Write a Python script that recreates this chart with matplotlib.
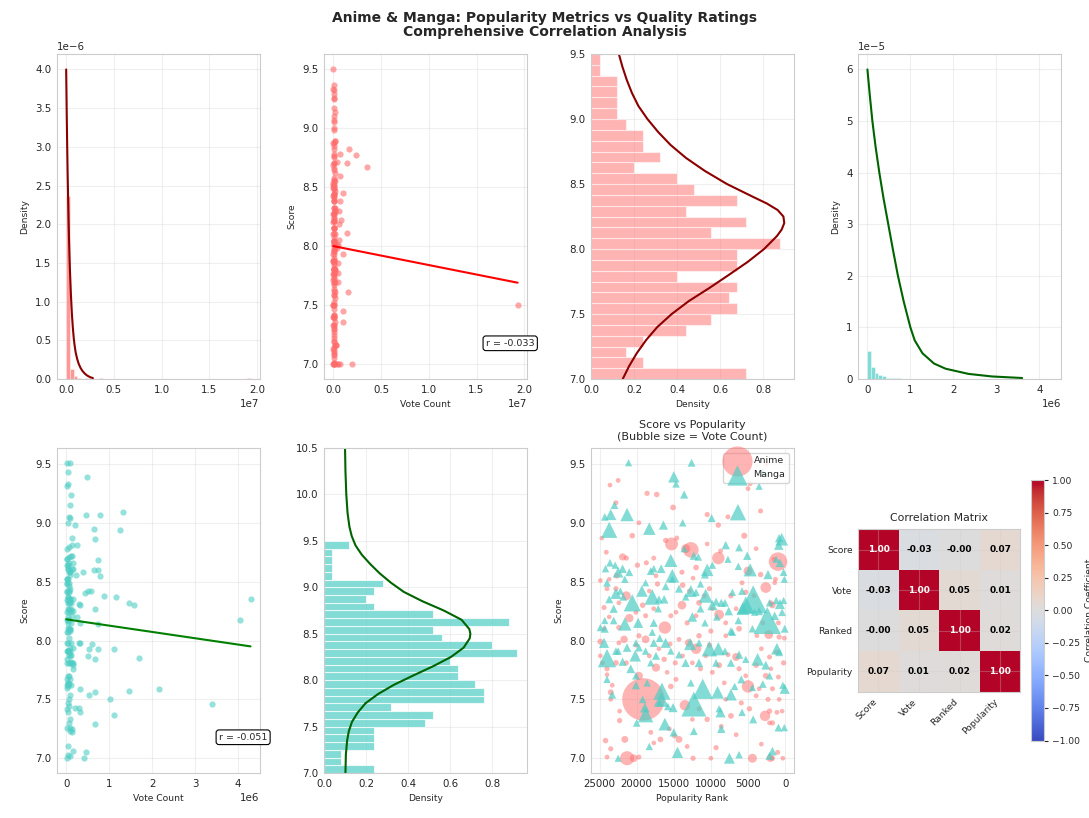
import matplotlib
matplotlib.use('Agg')
import matplotlib.pyplot as plt
import numpy as np
import seaborn as sns

sns.set_style('whitegrid')
plt.rcParams['font.family'] = ['DejaVu Sans']
plt.rcParams['xtick.labelsize'] = 7.4
plt.rcParams['ytick.labelsize'] = 7.4
plt.rcParams['axes.labelsize'] = 6.6
plt.rcParams['xtick.major.size'] = 0
plt.rcParams['ytick.major.size'] = 0
plt.rcParams['xtick.major.pad'] = 4
plt.rcParams['ytick.major.pad'] = 4

ANIME = '#FF6B6B'
MANGA = '#4ECDC4'

# ---------------- data ----------------
# anime: popularity rank, score, vote count
anime_pop = [
    22500, 23600, 22800, 18600, 17300, 15100, 19700, 10500, 9000, 5000,
    4700, 3300, 7700, 20600, 24700, 15300, 14600, 12700, 9000, 950,
    21900, 21400, 24100, 19900, 18700, 17700, 16100, 13400, 12000, 10500,
    8700, 5500, 3900, 5000, 3300, 1500, 1300, 22700, 23700, 13900,
    17400, 24900, 24000, 22800, 21400, 22400, 24400, 23700, 22400, 24400,
    24900, 21700, 21000, 20100, 19200, 18800, 18300, 17200, 17700, 16200,
    15400, 14700, 13900, 13800, 12900, 12400, 13200, 12000, 11600, 10900,
    10200, 9800, 8900, 8000, 7300, 6600, 5800, 5300, 4200, 2600,
    1900, 1700, 2200, 3000, 1400, 800, 100, 900, 3800, 6200,
    8000, 10000, 11600, 14300, 19700, 24900, 24600, 24000, 24000, 22800,
    22400, 23300, 23500, 23500, 21400, 20100, 18800, 18300, 19700, 17400,
    17000, 16300, 15500, 14800, 15900, 14700, 15400, 13800, 13000, 12000,
    12500, 11400, 10700, 10200, 9800, 8900, 8200, 7700, 6600, 6200,
    5000, 5300, 3900, 3200, 2100, 1900, 1200, 200, 900, 2600,
    3500, 1700, 19100, 13500, 2700, 4400, 21300, 20400, 19700, 24200,
    24000, 23500, 22300, 22300, 21600, 18100, 17700, 16800, 15600, 14900,
    14300, 13200, 12400, 12500, 11600, 10500, 10000, 8600, 9300, 8000,
    7300, 6600, 5900, 3200, 2100, 1100, 400, 1700, 2100, 1000,
    300, 1700, 2000, 3900, 2300, 800, 4800, 2500]
anime_score = [
    9.36, 9.32, 9.17, 9.25, 9.24, 9.13, 9.00, 9.07, 8.98, 9.29,
    9.33, 9.10, 9.05, 8.89, 8.87, 8.82, 8.87, 8.77, 8.70, 8.67,
    8.71, 8.70, 8.75, 8.64, 8.66, 8.70, 8.85, 8.78, 8.62, 8.82,
    8.76, 8.89, 8.78, 8.59, 8.56, 8.69, 8.52, 8.55, 8.52, 8.58,
    8.55, 8.51, 8.44, 8.44, 8.38, 8.32, 8.28, 8.20, 8.11, 8.10,
    7.99, 8.01, 8.19, 8.24, 8.30, 8.21, 8.42, 8.48, 8.27, 8.11,
    8.21, 8.24, 8.30, 8.47, 8.42, 8.53, 8.15, 8.21, 8.32, 8.38,
    8.44, 8.27, 8.22, 8.15, 8.38, 8.27, 8.49, 8.41, 8.38, 8.45,
    8.32, 8.30, 8.05, 8.15, 8.49, 8.03, 8.02, 8.15, 8.04, 8.10,
    8.04, 8.08, 8.04, 8.01, 8.04, 7.87, 7.81, 7.76, 7.71, 7.81,
    7.98, 7.62, 7.56, 7.50, 7.81, 7.96, 8.01, 7.87, 7.70, 7.77,
    7.93, 7.84, 7.97, 7.81, 7.73, 7.67, 7.61, 7.87, 7.98, 7.93,
    7.81, 7.76, 7.87, 7.96, 7.73, 7.79, 7.64, 7.88, 7.86, 7.76,
    7.61, 7.70, 7.79, 7.93, 7.86, 7.76, 7.90, 7.81, 7.69, 7.70,
    7.59, 7.59, 7.50, 7.45, 7.36, 7.00, 7.00, 7.00, 7.01, 7.15,
    7.01, 7.08, 7.40, 7.32, 7.16, 7.22, 7.13, 7.16, 7.25, 7.19,
    7.16, 7.10, 7.00, 7.33, 7.42, 7.33, 7.00, 7.27, 7.09, 7.50,
    7.36, 7.20, 7.47, 7.12, 7.40, 7.39, 7.40, 7.30, 7.30, 7.05,
    7.00, 7.00, 7.00, 7.53, 7.50, 7.50, 7.42, 9.50]
anime_votes = [
    45000, 30000, 60000, 90000, 120000, 150000, 40000, 80000, 110000, 35000,
    25000, 70000, 55000, 130000, 20000, 1600000, 60000, 2410000, 1470000, 3530000,
    350000, 80000, 50000, 100000, 70000, 45000, 90000, 660000, 140000, 30000,
    60000, 200000, 40000, 660000, 120000, 25000, 50000, 150000, 20000, 80000,
    35000, 30000, 60000, 90000, 660000, 40000, 70000, 25000, 110000, 15000,
    180000, 400000, 560000, 50000, 130000, 75000, 20000, 95000, 45000, 1470000,
    65000, 30000, 600000, 140000, 55000, 25000, 85000, 40000, 160000, 35000,
    70000, 20000, 840000, 50000, 115000, 30000, 60000, 90000, 40000, 1050000,
    75000, 230000, 630000, 55000, 20000, 100000, 45000, 65000, 28000, 150000,
    35000, 80000, 120000, 45000, 90000, 30000, 60000, 90000, 25000, 140000,
    50000, 40000, 170000, 20000, 75000, 35000, 450000, 55000, 500000, 520000,
    25000, 110000, 45000, 80000, 30000, 60000, 130000, 20000, 420000, 980000,
    40000, 70000, 25000, 95000, 50000, 180000, 35000, 60000, 490000, 85000,
    1500000, 40000, 120000, 30000, 65000, 20000, 45000, 90000, 55000, 160000,
    30000, 70000, 19300000, 980000, 980000, 660000, 1960000, 450000, 60000, 120000,
    40000, 80000, 30000, 100000, 310000, 50000, 25000, 140000, 35000, 70000,
    300000, 45000, 90000, 20000, 60000, 110000, 30000, 55000, 85000, 25000,
    150000, 40000, 75000, 30000, 120000, 50000, 20000, 90000, 35000, 60000,
    25000, 80000, 400000, 45000, 70000, 30000, 100000, 10000]

# manga: popularity rank, score, vote count
manga_pop = [
    21100, 12600, 15000, 14700, 13600, 23000, 24300, 23500, 21300, 23700,
    18300, 16400, 13800, 9900, 6350, 800, 850, 450, 3000, 3500,
    23600, 22900, 21900, 22500, 21000, 21600, 18100, 17700, 16700, 15400,
    15200, 13600, 12300, 11700, 10500, 9800, 10800, 7700, 6200, 5100,
    4700, 6300, 2300, 1200, 700, 200, 100, 24200, 8000, 24000,
    22800, 22200, 23700, 21800, 20600, 23100, 24300, 23100, 21600, 19800,
    24900, 24300, 18800, 19300, 17900, 17000, 16300, 17100, 17700, 17900,
    16100, 15200, 14300, 13400, 12700, 12000, 11400, 10700, 11400, 12500,
    10800, 9800, 9300, 8600, 8100, 9200, 7600, 7100, 5800, 5300,
    4300, 5700, 6300, 4100, 3500, 2400, 2100, 700, 400, 200,
    50, 1400, 1200, 4400, 7300, 16900, 24400, 24000, 22800, 21900,
    24000, 23300, 22500, 21300, 20100, 19700, 18800, 17700, 20200, 20800,
    20100, 18100, 17400, 16100, 15400, 14300, 13400, 12800, 11600, 10200,
    9300, 9000, 8100, 7300, 7100, 6200, 5300, 3700, 2600, 2100,
    1100, 800, 300, 50, 3000, 5900, 6800, 11600, 16600, 16700,
    11100, 12700, 9100, 7300, 4400, 20100, 18600, 19200, 18900, 18800,
    20000, 16200, 15000, 18300, 14500, 12300, 15100, 12300, 8900, 8700,
    5800, 4300, 900, 100, 1700, 2100, 6200, 7500, 22500, 8600,
    15800, 16900]
manga_score = [
    9.51, 9.51, 9.39, 9.33, 9.24, 9.15, 9.05, 9.07, 9.07, 8.94,
    8.95, 8.98, 9.00, 9.04, 9.09, 8.87, 8.81, 8.86, 9.43, 9.31,
    8.66, 8.64, 8.61, 8.58, 8.58, 8.52, 8.59, 8.61, 8.61, 8.68,
    8.55, 8.78, 8.72, 8.71, 8.60, 8.64, 8.56, 8.69, 8.79, 8.72,
    8.60, 8.63, 8.56, 8.69, 8.66, 8.58, 8.52, 8.61, 8.81, 8.49,
    8.40, 8.42, 8.35, 8.37, 8.32, 8.27, 8.17, 8.17, 8.14, 8.15,
    8.11, 8.10, 8.49, 8.42, 8.37, 8.35, 8.35, 8.27, 8.15, 8.07,
    8.46, 8.52, 8.44, 8.37, 8.42, 8.41, 8.48, 8.38, 8.27, 8.20,
    8.15, 8.30, 8.33, 8.32, 8.32, 8.20, 8.25, 8.41, 8.42, 8.30,
    8.35, 8.27, 8.17, 8.24, 8.25, 8.17, 8.32, 8.31, 8.24, 8.34,
    8.10, 8.21, 8.34, 8.10, 8.08, 8.02, 7.98, 7.85, 7.91, 7.82,
    7.67, 7.54, 7.91, 7.94, 7.98, 7.94, 7.91, 7.98, 7.87, 7.76,
    7.70, 7.81, 7.87, 7.98, 7.91, 7.88, 7.81, 7.97, 7.98, 7.93,
    7.81, 7.93, 7.91, 7.81, 8.07, 7.88, 7.84, 7.84, 7.79, 7.70,
    7.93, 7.90, 7.62, 7.59, 7.63, 7.67, 7.61, 7.81, 7.57, 7.50,
    7.59, 7.64, 7.56, 7.54, 7.60, 7.62, 7.64, 7.50, 7.43, 7.37,
    7.30, 7.29, 7.22, 7.10, 7.05, 7.23, 7.43, 7.46, 7.42, 7.39,
    7.39, 7.33, 7.26, 7.26, 7.06, 7.02, 7.03, 7.00, 7.00, 7.25,
    7.44, 7.47]
manga_votes = [
    20000, 90000, 480000, 40000, 110000, 80000, 60000, 450000, 780000, 1250000,
    640000, 210000, 50000, 100000, 1320000, 130000, 250000, 660000, 50000, 20000,
    60000, 25000, 140000, 390000, 80000, 35000, 100000, 50000, 170000, 730000,
    790000, 30000, 120000, 60000, 640000, 40000, 90000, 20000, 75000, 130000,
    730000, 45000, 220000, 30000, 160000, 55000, 15000, 40000, 130000, 70000,
    440000, 30000, 90000, 50000, 1470000, 120000, 25000, 60000, 750000, 330000,
    40000, 100000, 20000, 500000, 1160000, 80000, 150000, 45000, 110000, 30000,
    65000, 20000, 90000, 40000, 570000, 55000, 25000, 880000, 70000, 260000,
    35000, 330000, 95000, 120000, 60000, 40000, 150000, 30000, 75000, 1570000,
    4290000, 660000, 50000, 20000, 110000, 4050000, 45000, 310000, 65000, 25000,
    80000, 140000, 35000, 55000, 90000, 70000, 330000, 1700000, 60000, 120000,
    30000, 90000, 45000, 150000, 25000, 80000, 40000, 110000, 500000, 170000,
    55000, 30000, 95000, 310000, 20000, 60000, 130000, 600000, 40000, 1110000,
    75000, 750000, 35000, 90000, 50000, 120000, 25000, 660000, 170000, 45000,
    520000, 80000, 30000, 330000, 60000, 100000, 40000, 150000, 1470000, 1020000,
    2150000, 50000, 670000, 520000, 20000, 110000, 35000, 70000, 290000, 1120000,
    60000, 680000, 130000, 40000, 470000, 80000, 210000, 3400000, 25000, 330000,
    50000, 100000, 80000, 30000, 160000, 100000, 45000, 420000, 20000, 130000,
    60000, 35000]

# score histograms: counts per bin, 30 bins from 7.0 to 9.5
score_lo, score_hi = 7.0, 9.5
anime_score_counts = [18, 6, 4, 6, 11, 14, 17, 16, 17, 10, 17, 17, 22, 14, 18,
                      11, 17, 12, 10, 5, 8, 6, 6, 4, 3, 3, 3, 3, 1, 1]
manga_score_counts = [6, 2, 2, 6, 6, 6, 12, 13, 8, 19, 19, 18, 16, 16, 15,
                      23, 20, 14, 13, 22, 13, 6, 5, 6, 7, 1, 1, 1, 1, 3]

# vote count histograms: counts per bin, 50 bins from 0 to max votes
anime_vote_max = 19300000
anime_vote_counts = [274, 15, 5, 2, 0, 1, 1, 0, 0, 1] + [0] * 39 + [1]
manga_vote_max = 4290000
manga_vote_counts = ([140, 60, 32, 19, 14, 3, 6, 5, 3, 2, 2, 1, 1, 2, 1, 1, 0, 2, 1, 1]
                     + [0] * 5 + [1] + [0] * 13 + [1] + [0] * 7 + [1, 0, 1])

# fitted density curves
anime_vote_curve_x = [0, 0.05e6, 0.1e6, 0.15e6, 0.2e6, 0.25e6, 0.3e6, 0.35e6, 0.4e6, 0.5e6,
                      0.6e6, 0.7e6, 0.8e6, 0.9e6, 1.0e6, 1.15e6, 1.3e6, 1.5e6, 1.7e6,
                      1.95e6, 2.2e6, 2.5e6, 2.8e6]
anime_vote_curve_y = [4.0e-6, 3.5e-6, 3.06e-6, 2.68e-6, 2.35e-6, 2.06e-6, 1.8e-6, 1.58e-6, 1.39e-6,
                      1.08e-6, 0.84e-6, 0.66e-6, 0.52e-6, 0.42e-6, 0.34e-6, 0.26e-6, 0.2e-6,
                      0.145e-6, 0.105e-6, 0.07e-6, 0.045e-6, 0.025e-6, 0.012e-6]
manga_vote_curve_x = [0, 0.055e6, 0.115e6, 0.19e6, 0.277e6, 0.375e6, 0.485e6, 0.595e6, 0.71e6,
                      0.845e6, 1.0e6, 1.1e6, 1.28e6, 1.55e6, 1.82e6, 2.35e6, 2.9e6, 3.6e6]
manga_vote_curve_y = [6.0e-5, 5.5e-5, 5.0e-5, 4.5e-5, 4.0e-5, 3.5e-5, 3.0e-5, 2.5e-5, 2.0e-5,
                      1.5e-5, 1.0e-5, 0.75e-5, 0.5e-5, 0.3e-5, 0.2e-5, 0.1e-5, 0.05e-5, 0.02e-5]
anime_score_curve_s = [6.9, 7.0, 7.1, 7.2, 7.3, 7.4, 7.5, 7.6, 7.7, 7.8, 7.9, 8.0, 8.1, 8.15,
                       8.2, 8.25, 8.3, 8.35, 8.4, 8.5, 8.6, 8.7, 8.8, 8.9, 9.0, 9.1, 9.2, 9.3,
                       9.4, 9.5, 9.6]
anime_score_curve_d = [0.128, 0.147, 0.177, 0.213, 0.256, 0.308, 0.375, 0.455, 0.550, 0.640, 0.728,
                       0.805, 0.865, 0.887, 0.899, 0.895, 0.868, 0.818, 0.755, 0.632, 0.530,
                       0.442, 0.370, 0.312, 0.262, 0.22, 0.19, 0.166, 0.146, 0.129, 0.117]
manga_score_curve_s = [7.0, 7.2, 7.35, 7.45, 7.55, 7.65, 7.75, 7.85, 7.95, 8.05, 8.15, 8.25,
                       8.35, 8.45, 8.5, 8.55, 8.65, 8.75, 8.85, 8.95, 9.05, 9.15, 9.25, 9.35,
                       9.45, 9.55, 9.65, 9.8, 10.0, 10.25, 10.5]
manga_score_curve_d = [0.102, 0.104, 0.110, 0.118, 0.133, 0.160, 0.197, 0.257, 0.333, 0.425,
                       0.520, 0.605, 0.665, 0.694, 0.697, 0.692, 0.655, 0.570, 0.468, 0.380,
                       0.318, 0.265, 0.220, 0.180, 0.150, 0.132, 0.121, 0.112, 0.106, 0.102,
                       0.100]

# regression lines (intercept, slope) and correlations
anime_fit = (8.00, -1.606e-8)
manga_fit = (8.18, -5.36e-8)
anime_r = -0.033
manga_r = -0.051

corr_labels = ['Score', 'Vote', 'Ranked', 'Popularity']
corr_values = [[1.00, -0.03, -0.004, 0.07],
               [-0.03, 1.00, 0.05, 0.01],
               [-0.004, 0.05, 1.00, 0.02],
               [0.07, 0.01, 0.02, 1.00]]

# ---------------- figure ----------------
fig, axes = plt.subplots(2, 4, figsize=(10.89, 8.18), dpi=100)
fig.subplots_adjust(left=0.0523, right=0.9743, bottom=0.055, top=0.934,
                    wspace=0.317, hspace=0.212)
fig.suptitle('Anime & Manga: Popularity Metrics vs Quality Ratings\nComprehensive Correlation Analysis',
             fontsize=10, fontweight='bold', y=0.987, linespacing=1.05)

for ax in axes.flat:
    ax.grid(True, alpha=0.3)


def vote_hist(ax, counts, vmax, color, cx, cy, ccolor):
    counts = np.array(counts, dtype=float)
    bw = vmax / len(counts)
    dens = counts / (counts.sum() * bw)
    ax.bar(np.arange(len(counts)) * bw, dens, width=bw, align='edge', color=color,
           alpha=0.7, edgecolor='white', linewidth=0.4)
    ax.plot(cx, cy, color=ccolor, lw=1.5)
    ax.set_ylabel('Density')


def score_hist(ax, counts, color, alpha, cs, cd, ccolor):
    counts = np.array(counts, dtype=float)
    bw = (score_hi - score_lo) / len(counts)
    dens = counts / (counts.sum() * bw)
    ax.barh(score_lo + np.arange(len(counts)) * bw, dens, height=bw, align='edge',
            color=color, alpha=alpha, edgecolor='white', linewidth=0.8)
    ax.plot(cd, cs, color=ccolor, lw=1.5)
    ax.set_xlabel('Density')


def vote_scatter(ax, votes, score, color, fit, r, lcolor):
    ax.scatter(votes, score, s=20, color=color, alpha=0.6, linewidths=0)
    xs = np.array([0, max(votes)])
    ax.plot(xs, fit[0] + fit[1] * xs, color=lcolor, lw=1.5)
    ax.text(0.918, 0.11, f'r = {r:.3f}', transform=ax.transAxes, ha='center', va='center',
            fontsize=6.8, bbox=dict(boxstyle='round,pad=0.3', facecolor='white',
                                    edgecolor='black', linewidth=0.8))
    ax.set_xlabel('Vote Count')
    ax.set_ylabel('Score')


# top row
vote_hist(axes[0, 0], anime_vote_counts, anime_vote_max, ANIME,
          anime_vote_curve_x, anime_vote_curve_y, 'darkred')
vote_scatter(axes[0, 1], anime_votes, anime_score, ANIME, anime_fit, anime_r, 'red')
score_hist(axes[0, 2], anime_score_counts, ANIME, 0.5,
           anime_score_curve_s, anime_score_curve_d, 'darkred')
axes[0, 2].set_ylim(7.0, 9.5)
vote_hist(axes[0, 3], manga_vote_counts, manga_vote_max, MANGA,
          manga_vote_curve_x, manga_vote_curve_y, 'darkgreen')

# bottom row
vote_scatter(axes[1, 0], manga_votes, manga_score, MANGA, manga_fit, manga_r, 'green')
score_hist(axes[1, 1], manga_score_counts, MANGA, 0.7,
           manga_score_curve_s, manga_score_curve_d, 'darkgreen')
axes[1, 1].set_ylim(7.0, 10.5)

ax7 = axes[1, 2]
ax7.scatter(anime_pop, anime_score, s=10 + np.array(anime_votes) / 21000, color=ANIME,
            alpha=0.5, linewidths=0, label='Anime')
ax7.scatter(manga_pop, manga_score, s=25 + np.array(manga_votes) / 11400, color=MANGA,
            alpha=0.7, marker='^', linewidths=0, label='Manga')
ax7.invert_xaxis()
ax7.set_xlabel('Popularity Rank')
ax7.set_ylabel('Score')
ax7.set_title('Score vs Popularity\n(Bubble size = Vote Count)', fontsize=8)
ax7.legend(loc='upper right', fontsize=6.8)

ax8 = axes[1, 3]
im = ax8.imshow(corr_values, cmap='coolwarm', vmin=-1, vmax=1)
ax8.set_xticks(range(len(corr_labels)))
ax8.set_yticks(range(len(corr_labels)))
ax8.set_xticklabels(corr_labels, rotation=45, ha='right', fontsize=6.6)
ax8.set_yticklabels(corr_labels, fontsize=6.6)
for i in range(len(corr_labels)):
    for j in range(len(corr_labels)):
        v = corr_values[i][j]
        ax8.text(j, i, f'{v:.2f}', ha='center', va='center', fontsize=6.5, fontweight='bold',
                 color='white' if abs(v) > 0.5 else 'black')
ax8.set_title('Correlation Matrix', fontsize=7.8)
cbar = fig.colorbar(im, ax=ax8, shrink=0.8)
cbar.set_label('Correlation Coefficient', fontsize=6.6)
cbar.ax.tick_params(labelsize=6.6, size=3, pad=3)

fig.savefig('out.png', dpi=100)
